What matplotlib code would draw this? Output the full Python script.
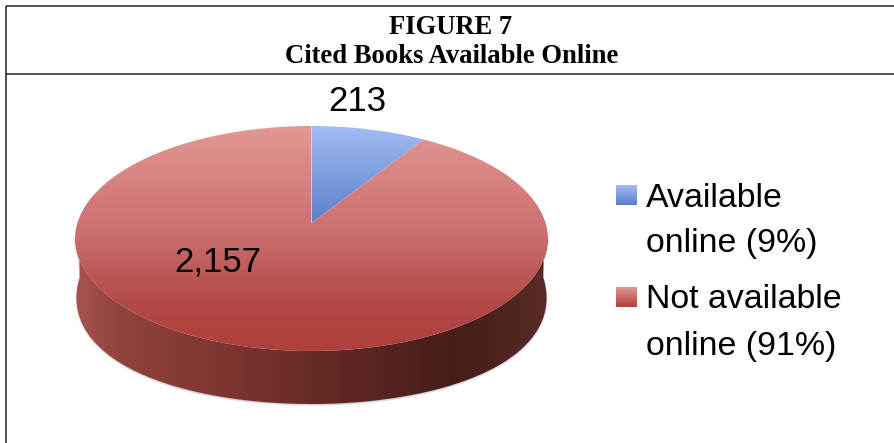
import matplotlib
matplotlib.use('Agg')
import matplotlib.pyplot as plt
from matplotlib.patches import PathPatch, Rectangle
from matplotlib.path import Path
from matplotlib.colors import LinearSegmentedColormap
import numpy as np

title_lines = ['FIGURE 7', 'Cited Books Available Online']
values = [213, 2157]
value_labels = ['213', '2,157']
legend_labels = ['Available\nonline (9%)', 'Not available\nonline (91%)']

blue_top = '#a3bcf4'
blue_bottom = '#5a80c8'
red_stops = [(0.0, '#e39794'), (0.5, '#c96c6c'), (0.78, '#b34a48'), (1.0, '#af3f3b')]
side_stops = [(0.0, '#a8524e'), (0.1, '#8f423c'), (0.35, '#7a332e'),
              (0.58, '#5e2723'), (0.8, '#471d1a'), (0.93, '#502522'), (1.0, '#5a2c28')]

# pie geometry, px
cx = 311.5
k = 234.0
apex_y = 223.0
a = -79.64
c = 0.1378


def project(theta):
    # theta runs clockwise from 12 o'clock, gives a tilted circle
    u = np.sin(theta)
    v = np.cos(theta)
    d = 1 + c * v
    return cx + k * u / d, (a * v + apex_y) / d


def slice_path(start, end):
    t = np.linspace(start, end, 200)
    x, y = project(t)
    xs = np.concatenate([[cx], x, [cx]])
    ys = np.concatenate([[apex_y], y, [apex_y]])
    return Path(np.column_stack([xs, ys]))


def gradient(ax, clip, extent, cmap, vertical=True):
    ramp = np.linspace(0, 1, 256)
    ramp = ramp[:, None] if vertical else ramp[None, :]
    im = ax.imshow(ramp, cmap=cmap, extent=extent, aspect='auto', zorder=2,
                   interpolation='bilinear', vmin=0, vmax=1, origin='upper')
    im.set_clip_path(clip)
    return im


fig = plt.figure(figsize=(8.94, 4.43), dpi=100)
ax = fig.add_axes([0, 0, 1, 1])
ax.axis('off')

red = LinearSegmentedColormap.from_list('red', red_stops)
blue = LinearSegmentedColormap.from_list('blue', [blue_top, blue_bottom])
side = LinearSegmentedColormap.from_list('side', side_stops)

# side of the disc
t = np.linspace(np.pi / 2 - 0.03, 3 * np.pi / 2 + 0.03, 300)
top_x, top_y = project(t)
low_x = cx + (top_x - cx) * 0.995
low_y = 281 + 123 * -np.cos(t)
outline = np.column_stack([np.concatenate([top_x, low_x[::-1]]),
                           np.concatenate([top_y, low_y[::-1]])])
shadow = PathPatch(Path(outline + [0, 1]), fc='#aaaaaa', ec='#d5d5d5', lw=1.2, alpha=0.6,
                   zorder=1)
ax.add_patch(shadow)
side_patch = PathPatch(Path(outline), fc='none', ec='none', zorder=1.5)
ax.add_patch(side_patch)
gradient(ax, side_patch, (75, 549, 405, 238), side, vertical=False)

# top of the disc, slices from the data
angles = np.cumsum([0] + values) / sum(values) * 2 * np.pi
for i in range(len(values)):
    p = PathPatch(slice_path(angles[i], angles[i + 1]), fc='none', ec='none', zorder=3)
    ax.add_patch(p)
    if i == 0:
        im = gradient(ax, p, (cx, 430, 223, 126), blue)
    else:
        im = gradient(ax, p, (70, 552, 351, 126), red)
    im.set_zorder(3)

# frame, open on the right and at the bottom
for xs, ys in [((5.5, 5.5), (5.5, 443)), ((5.5, 894), (5.5, 5.5)),
               ((5.5, 894), (73.5, 73.5))]:
    ax.plot(xs, ys, color='#222222', lw=1.1, solid_capstyle='butt', zorder=4)

ax.text(451, 34, title_lines[0], family='Liberation Serif', weight='bold', fontsize=19.2,
        ha='center', va='baseline', color='black')
ax.text(451.5, 63, title_lines[1], family='Liberation Serif', weight='bold', fontsize=19.2,
        ha='center', va='baseline', color='black')

sans = 'Liberation Sans'
ax.text(357, 111, value_labels[0], family=sans, fontsize=25, ha='center', va='baseline', zorder=5)
ax.text(217.5, 271, value_labels[1], family=sans, fontsize=25, ha='center', va='baseline', zorder=5)

# legend
swatches = [(616, 185), (616, 287)]
baselines = [(207, 252), (308, 355)]
for i, label in enumerate(legend_labels):
    x0, y0 = swatches[i]
    r = Rectangle((x0, y0), 21, 20, fc='none', ec='none', zorder=3)
    ax.add_patch(r)
    m = LinearSegmentedColormap.from_list('sw', [blue_top, blue_bottom] if i == 0 else ['#e39794', '#af3f3b'])
    gradient(ax, r, (x0, x0 + 21, y0 + 20, y0), m)
    for line, yb in zip(label.split('\n'), baselines[i]):
        ax.text(646, yb, line, family=sans, fontsize=24.4, va='baseline', ha='left', zorder=5)

ax.set_xlim(0, 894)
ax.set_ylim(443, 0)
fig.savefig('out.png', dpi=100, facecolor='white')
